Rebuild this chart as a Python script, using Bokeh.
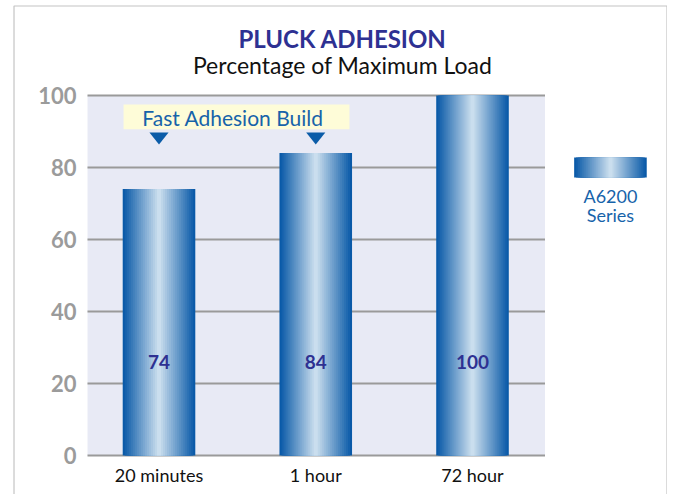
from bokeh.plotting import figure
from bokeh.models import ColumnDataSource, BoxAnnotation
from bokeh.core.properties import value
from bokeh.embed import file_html
from bokeh.resources import INLINE

# ---- data ----
categories = ["20 minutes", "1 hour", "72 hour"]
values = [74, 84, 100]
y_ticks = [0, 20, 40, 60, 80, 100]
title_text = "PLUCK ADHESION"
subtitle_text = "Percentage of Maximum Load"
callout_text = "Fast Adhesion Build"
callout_targets = [0, 1]
series_name = ["A6200", "Series"]

# ---- styling ----
FONT = "Lato"
NAVY = "#2E3192"
BLUE = "#1763AA"
DARK = (10, 90, 168)
LIGHT = (202, 222, 238)
LAVENDER = "#E8EAF5"
GRID = "#9A9A9A"
FRAME = "#C4C4C4"

# data window (frame covers the whole canvas)
X_START, X_END = -1.0112, 3.2440
Y_START, Y_END = -10.833, 126.389
PLOT_LEFT, PLOT_RIGHT = -0.4561, 2.4625
BAR_W = 0.463
LEG_X, LEG_Y, LEG_H = 2.88, 80.0, 5.6
TRI_HALF_W, TRI_TOP, TRI_BOTTOM = 0.061, 89.7, 86.4

p = figure(width=667, height=494, x_range=(X_START, X_END), y_range=(Y_START, Y_END),
           output_backend="svg", toolbar_location=None,
           min_border=0, x_axis_location=None, y_axis_location=None)
p.outline_line_color = None
p.background_fill_color = "white"
p.border_fill_color = "white"
p.xgrid.visible = False
p.ygrid.visible = False

# outer frame (left, top, right)
p.line(x=[-0.925, -0.925, 3.2408, 3.2408], y=[Y_START - 5, 124.86, 124.86, Y_START - 5],
       line_color=FRAME, line_width=1.2)

# plot background
p.add_layout(BoxAnnotation(left=PLOT_LEFT, right=PLOT_RIGHT, bottom=0, top=100,
                           fill_color=LAVENDER, fill_alpha=1, line_color=None, level="underlay"))

# grid lines
p.segment(x0=[PLOT_LEFT] * len(y_ticks), x1=[PLOT_RIGHT] * len(y_ticks), y0=y_ticks, y1=y_ticks,
          line_color=GRID, line_width=2)

# gradient bars (nested layers) + legend swatch
N = 18
xs = list(range(len(categories)))
for i in range(N):
    t = i / (N - 1)
    c = tuple(int(DARK[k] + (LIGHT[k] - DARK[k]) * t) for k in range(3))
    col = "#%02x%02x%02x" % c
    w = BAR_W * (1 - i / N)
    src = ColumnDataSource(dict(x=xs, top=values))
    p.vbar(x="x", top="top", bottom=0, width=w, source=src, fill_color=col, line_color=None)
    p.rect(x=[LEG_X], y=[LEG_Y], width=w, height=LEG_H, fill_color=col, line_color=None)

# value labels in bars
p.text(x=xs, y=[26] * len(xs), text=[str(v) for v in values], text_align="center",
       text_baseline="middle", text_color=NAVY, text_font_size="19px",
       text_font_style="bold", text_font=value(FONT))

# callout
p.quad(left=[-0.226], right=[1.215], bottom=[90.6], top=[97.5],
       fill_color="#FEFCD8", line_color=None)
p.text(x=[0.472], y=[94.0], text=[callout_text], text_align="center", text_baseline="middle",
       text_color=BLUE, text_font_size="21px", text_font=value(FONT))
p.patches(xs=[[t - TRI_HALF_W, t + TRI_HALF_W, t] for t in callout_targets],
          ys=[[TRI_TOP, TRI_TOP, TRI_BOTTOM] for _ in callout_targets],
          fill_color="#0B5CA8", line_color=None)

# titles
p.text(x=[1.171], y=[115.75], text=[title_text], text_align="center", text_baseline="alphabetic",
       text_color=NAVY, text_font_size="24px", text_font_style="bold", text_font=value(FONT))
p.text(x=[1.171], y=[108.5], text=[subtitle_text], text_align="center", text_baseline="alphabetic",
       text_color="#111111", text_font_size="23px", text_font=value(FONT))

# legend text
p.text(x=[LEG_X] * len(series_name), y=[72.2, 66.9], text=series_name, text_align="center",
       text_baseline="middle", text_color=BLUE, text_font_size="18px", text_font=value(FONT))

# y tick labels
p.text(x=[-0.526] * len(y_ticks), y=y_ticks, text=[str(t) for t in y_ticks], text_align="right",
       text_baseline="middle", text_color="#9B9B9B", text_font_size="22px",
       text_font_style="bold", text_font=value(FONT))

# x category labels
p.text(x=xs, y=[-5.55] * len(xs), text=categories, text_align="center", text_baseline="alphabetic",
       text_color="#111111", text_font_size="18px", text_font=value(FONT))

open("out.html", "w").write(file_html(p, INLINE))
